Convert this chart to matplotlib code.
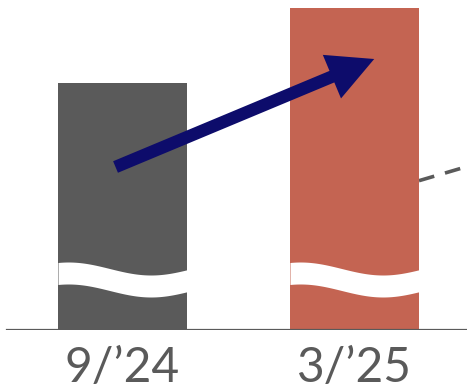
import numpy as np
import matplotlib.pyplot as plt

# 两根柱子：标签、数值、颜色
labels = ["9/\u201924", "3/\u201925"]
values = [247, 322]
colors = ["#5a5a5a", "#c46452"]

# 箭头起止点（数据坐标）
arrow_tail = (-0.03, 163)
arrow_head = (1.085, 271)

# 右侧虚线（数据坐标）
dash_x = [1.278, 1.6]
dash_y = [149.3, 171.3]

BAR_W = 0.556
TEXT_GRAY = "#5a5a5a"
NAVY = "#0d0c6b"

fig = plt.figure(figsize=(4.67, 3.86), dpi=100)
ax = fig.add_axes([0, 56 / 386, 1, 330 / 386])
ax.set_xlim(-0.528, 1.485)
ax.set_ylim(0, 330)
ax.axis("off")

x = np.arange(len(values))

ax.plot(dash_x, dash_y, color=TEXT_GRAY, lw=2.6, ls=(0, (4.4, 3.1)), zorder=1,
        solid_capstyle="butt", dash_capstyle="butt")

ax.bar(x, values, width=BAR_W, color=colors, zorder=2)

# 断轴波浪（白色带）
for xi in x:
    xs = np.linspace(xi - BAR_W / 2, xi + BAR_W / 2, 200)
    t = (xs - xs[0]) / (xs[-1] - xs[0])
    upper = 61.5 + 6.5 * np.cos(np.pi * (t - 0.08) / 0.64)
    ax.fill_between(xs, upper - 22, upper, color="white", lw=0, zorder=3)

ax.axhline(0, xmin=7 / 467, xmax=1, color=TEXT_GRAY, lw=1.6, zorder=4)

ax.annotate(
    "",
    xy=arrow_head,
    xytext=arrow_tail,
    arrowprops=dict(
        arrowstyle="simple,head_width=3.4,head_length=3.3,tail_width=0.9",
        mutation_scale=10,
        color=NAVY,
        shrinkA=0,
        shrinkB=0,
        lw=0,
    ),
    zorder=5,
)

for xi, lab in zip(x, labels):
    ax.text(xi, -52, lab, ha="center", va="baseline", fontsize=34.5,
            family=["Lato", "DejaVu Sans"], color=TEXT_GRAY, clip_on=False)

fig.savefig("out.png", dpi=100)
